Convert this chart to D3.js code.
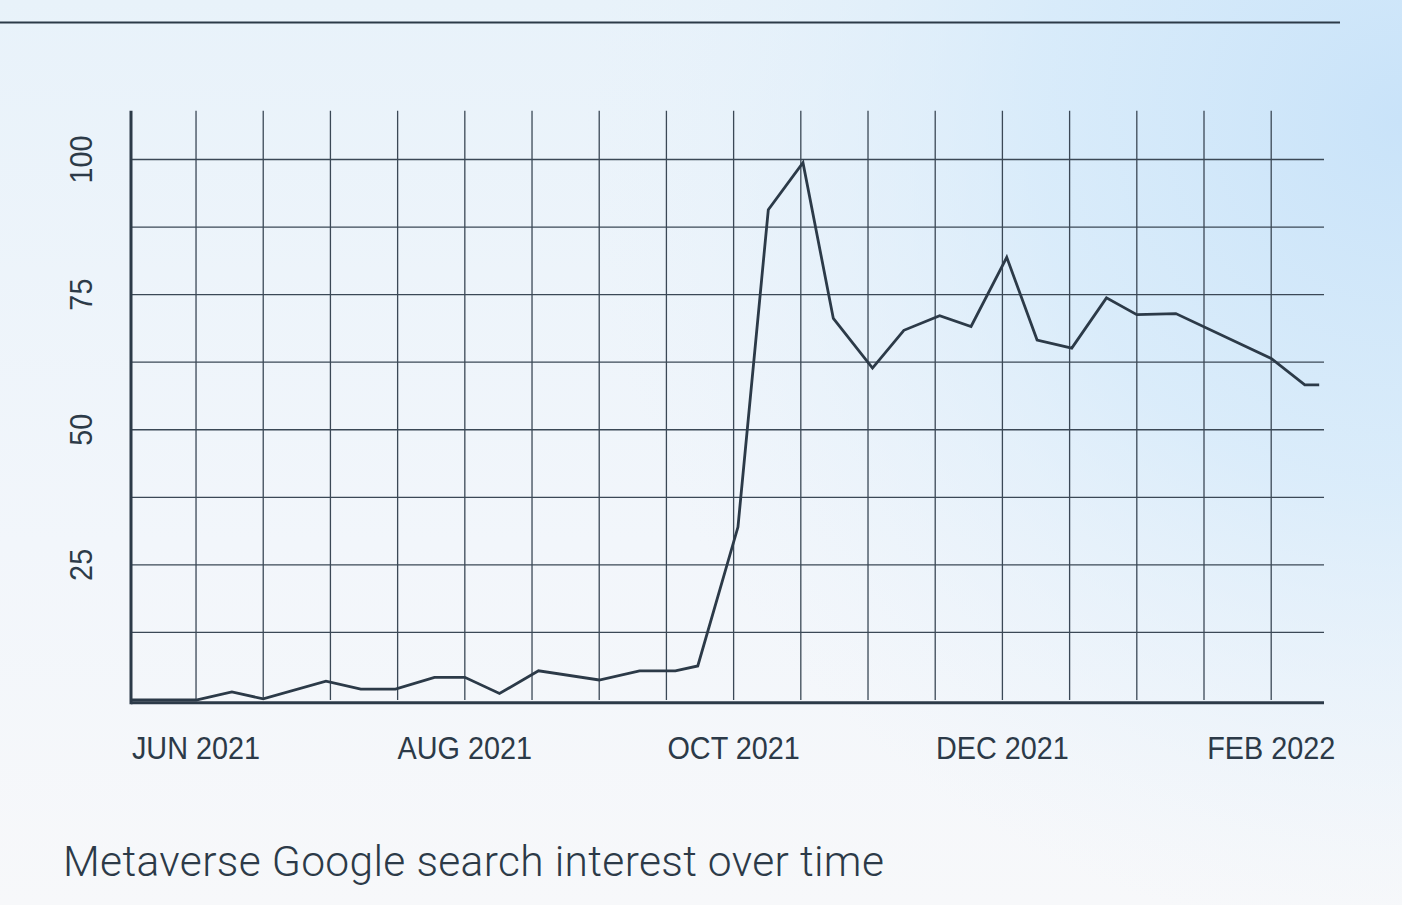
<!DOCTYPE html>
<html>
<head>
<meta charset="utf-8">
<script src="https://cdn.jsdelivr.net/npm/d3@7"></script>
<style>
html, body { margin: 0; padding: 0; }
body { width: 1402px; height: 905px; overflow: hidden; }
</style>
</head>
<body>
<script>
// weekly-ish google trends points
var dates = ["2021-05-17", "2021-06-01", "2021-06-09", "2021-06-16", "2021-06-30",
	"2021-07-08", "2021-07-16", "2021-07-25", "2021-08-01", "2021-08-09",
	"2021-08-18", "2021-09-01", "2021-09-10", "2021-09-18", "2021-09-23",
	"2021-10-02", "2021-10-09", "2021-10-17", "2021-10-24", "2021-11-02",
	"2021-11-09", "2021-11-17", "2021-11-24", "2021-12-02", "2021-12-09",
	"2021-12-17", "2021-12-25", "2022-01-01", "2022-01-10", "2022-02-01",
	"2022-02-08", "2022-02-11"];
var values = [0, 0, 1.5, 0.2, 3.5,
	2, 2, 4.2, 4.2, 1.2,
	5.4, 3.7, 5.4, 5.4, 6.3,
	32, 90.7, 99.4, 70.6, 61.4,
	68.4, 71.1, 69.1, 81.9, 66.6,
	65.1, 74.4, 71.3, 71.5, 63.2,
	58.3, 58.3];

var xLabels = ["JUN 2021", "AUG 2021", "OCT 2021", "DEC 2021", "FEB 2022"];
var xLabelDates = ["2021-06-01", "2021-08-01", "2021-10-01", "2021-12-01", "2022-02-01"];
var yTicks = [25, 50, 75, 100];
var yGrid = [12.5, 25, 37.5, 50, 62.5, 75, 87.5, 100];
var endDate = "2022-02-12";

var W = 1402, H = 905,
	left = 131, right = 1324;

var parse = d3.timeParse("%Y-%m-%d");

// months since Jun 2021, day as a fraction of its month (keeps the grid even)
function monthPos(s) {
	var d = parse(s);
	var m = (d.getFullYear() - 2021) * 12 + d.getMonth() - 5;
	var days = new Date(d.getFullYear(), d.getMonth() + 1, 0).getDate();
	return m + (d.getDate() - 1) / days;
}

var xSc = d3.scaleLinear().domain([monthPos(dates[0]), monthPos(endDate)]).range([left, right]),
	ySc = d3.scaleLinear().domain([0, 100]).range([700, 159.5]);

var ink = "#2c3a48";

var svg = d3.select("body").append("svg")
	.attr("width", W).attr("height", H);

var defs = svg.append("defs");
var base = defs.append("linearGradient")
	.attr("id", "bg-base")
	.attr("x1", 0).attr("y1", 0).attr("x2", 0).attr("y2", 1);
base.append("stop").attr("offset", 0).attr("stop-color", "#e8f2fa");
base.append("stop").attr("offset", 0.6).attr("stop-color", "#f2f6fb");
base.append("stop").attr("offset", 1).attr("stop-color", "#f7f8fa");

var glow = defs.append("radialGradient")
	.attr("id", "bg-glow")
	.attr("gradientUnits", "userSpaceOnUse")
	.attr("cx", 1402).attr("cy", 120).attr("r", 820);
glow.append("stop").attr("offset", 0).attr("stop-color", "#c9e3f9").attr("stop-opacity", 1);
glow.append("stop").attr("offset", 0.45).attr("stop-color", "#d3e9fa").attr("stop-opacity", 0.75);
glow.append("stop").attr("offset", 1).attr("stop-color", "#e6f1fa").attr("stop-opacity", 0);

svg.append("rect").attr("width", W).attr("height", H).attr("fill", "url(#bg-base)");
svg.append("rect").attr("width", W).attr("height", H).attr("fill", "url(#bg-glow)");

// rule on top
svg.append("line")
	.attr("x1", 0).attr("x2", 1340).attr("y1", 22.5).attr("y2", 22.5)
	.attr("stroke", ink).attr("stroke-width", 2);

var chart = svg.append("g").attr("id", "chart");

// grid
var halfMonths = d3.range(0, 8.01, 0.5);
chart.append("g").selectAll("line")
	.data(halfMonths).enter().append("line")
	.attr("x1", function(d) { return xSc(d); })
	.attr("x2", function(d) { return xSc(d); })
	.attr("y1", ySc(109)).attr("y2", ySc(0))
	.attr("stroke", "#3b4856").attr("stroke-width", 1.3);

chart.append("g").selectAll("line")
	.data(yGrid).enter().append("line")
	.attr("x1", left).attr("x2", right)
	.attr("y1", function(d) { return ySc(d); })
	.attr("y2", function(d) { return ySc(d); })
	.attr("stroke", "#3b4856").attr("stroke-width", 1.3);

// axes lines
chart.append("line")
	.attr("x1", left).attr("x2", left)
	.attr("y1", ySc(109)).attr("y2", ySc(-0.5) + 1.5)
	.attr("stroke", ink).attr("stroke-width", 3);
chart.append("line")
	.attr("x1", left).attr("x2", right)
	.attr("y1", ySc(-0.5)).attr("y2", ySc(-0.5))
	.attr("stroke", ink).attr("stroke-width", 3);

// the series
var line = d3.line()
	.x(function(d, i) { return xSc(monthPos(dates[i])); })
	.y(function(d) { return ySc(d); });

chart.append("path")
	.datum(values)
	.attr("d", line)
	.attr("fill", "none")
	.attr("stroke", ink)
	.attr("stroke-width", 2.8)
	.attr("stroke-linejoin", "miter");

var labelFont = "'Liberation Sans Narrow', 'Arial Narrow', 'Liberation Sans', sans-serif";

// labels are a narrow grotesque, squeeze a bit
chart.append("g").selectAll("text")
	.data(xLabels).enter().append("text")
	.attr("transform", function(d, i) {
		return "translate(" + xSc(monthPos(xLabelDates[i])) + ",759) scale(0.93,1)";
	})
	.attr("text-anchor", "middle")
	.attr("font-family", labelFont)
	.attr("font-size", "31px")
	.attr("fill", ink)
	.text(function(d) { return d; });

chart.append("g").selectAll("text")
	.data(yTicks).enter().append("text")
	.attr("transform", function(d) { return "translate(92," + ySc(d) + ") rotate(-90) scale(0.93,1)"; })
	.attr("text-anchor", "middle")
	.attr("font-family", labelFont)
	.attr("font-size", "31px")
	.attr("fill", ink)
	.text(function(d) { return d; });

svg.append("text")
	.attr("x", 63).attr("y", 876)
	.attr("font-family", "Roboto, sans-serif")
	.attr("font-size", "42.5px")
	.attr("font-weight", 300)
	.attr("letter-spacing", "0.35px")
	.attr("fill", ink)
	.text("Metaverse Google search interest over time");
</script>
</body>
</html>
